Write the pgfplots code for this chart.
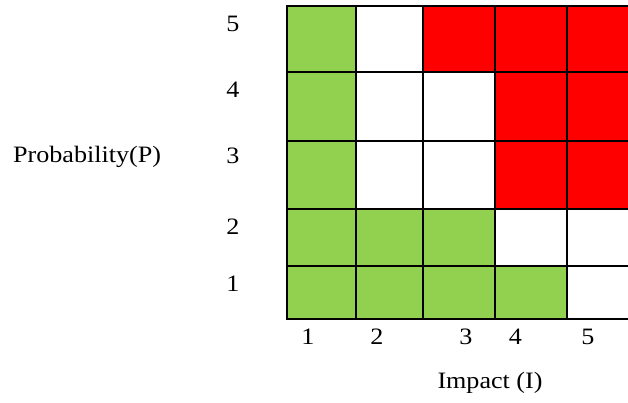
\documentclass[border=0pt]{standalone}
\usepackage{pgfplots}
\pgfplotsset{compat=1.18}
\usepackage{graphicx}
\usepackage{fontspec}
\setmainfont{Liberation Serif}
\definecolor{rgreen}{HTML}{92D050}
\definecolor{rred}{HTML}{FF0000}
\newcommand{\lbl}[1]{\scalebox{1.11}[1]{\fontsize{23.5}{28}\selectfont #1}}
\begin{document}
\begin{tikzpicture}
\begin{axis}[
  at={(0,0)}, anchor=south west,
  scale only axis, width=628pt, height=403pt,
  xmin=0, xmax=628, ymin=0, ymax=403, y dir=reverse,
  hide axis, clip=false,
]
% green zone (low risk)
\addplot[fill=rgreen, draw=none] coordinates {
 (287,6) (356,6) (356,209) (495,209) (495,266) (567,266) (567,319) (287,319)} -- cycle;
% red zone (high risk)
\addplot[fill=rred, draw=none] coordinates {
 (423,6) (645,6) (645,209) (495,209) (495,72) (423,72)} -- cycle;
% grid lines
\pgfplotsinvokeforeach{6,72,141,209,266,319}{
  \addplot[black, line width=1.7pt] coordinates {(286.2,#1) (645,#1)};
}
\pgfplotsinvokeforeach{287,356,423,495,567}{
  \addplot[black, line width=1.7pt] coordinates {(#1,6) (#1,319)};
}
% y tick labels
\node[anchor=base, inner sep=0pt] at (axis cs:233,32) {\lbl{5}};
\node[anchor=base, inner sep=0pt] at (axis cs:233,98) {\lbl{4}};
\node[anchor=base, inner sep=0pt] at (axis cs:233,164) {\lbl{3}};
\node[anchor=base, inner sep=0pt] at (axis cs:233,234) {\lbl{2}};
\node[anchor=base, inner sep=0pt] at (axis cs:233,291) {\lbl{1}};
% x tick labels
\node[anchor=base, inner sep=0pt] at (axis cs:308,344) {\lbl{1}};
\node[anchor=base, inner sep=0pt] at (axis cs:377,344) {\lbl{2}};
\node[anchor=base, inner sep=0pt] at (axis cs:466,344) {\lbl{3}};
\node[anchor=base, inner sep=0pt] at (axis cs:515.5,344) {\lbl{4}};
\node[anchor=base, inner sep=0pt] at (axis cs:588,344) {\lbl{5}};
% axis titles
\node[anchor=base west, inner sep=0pt] at (axis cs:13,163) {\lbl{Probability(P)}};
\node[anchor=base, inner sep=0pt] at (axis cs:490,388) {\lbl{Impact (I)}};
\end{axis}
\pgfresetboundingbox
\useasboundingbox (0,0) rectangle (628pt,403pt);
\end{tikzpicture}
\end{document}
